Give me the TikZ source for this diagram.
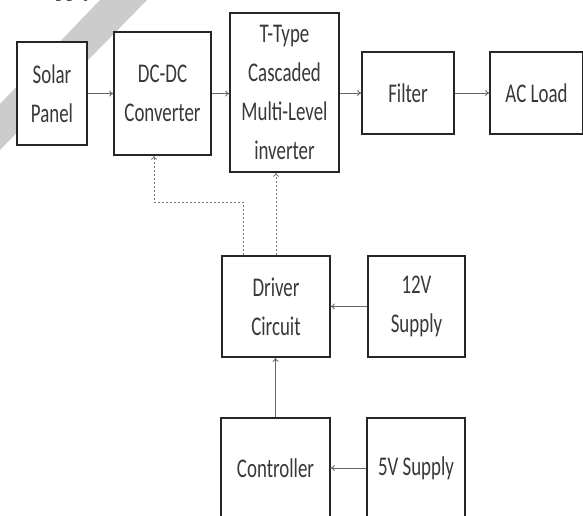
\documentclass[tikz,border=0pt]{standalone}
\usepackage{fontspec}
\setmainfont{Carlito}[FakeStretch=0.70]
\newfontfamily\hdrfont{Liberation Serif}
\usetikzlibrary{arrows.meta,calc}
\begin{document}
\begin{tikzpicture}[x=1pt,y=-1pt,
  blk/.style={draw=black!85,line width=1.5pt,fill=white,rectangle,inner sep=0pt,
    align=center,text=black!78,font=\fontsize{27}{39}\selectfont},
  arr/.style={draw=black!60,line width=0.9pt,-{To[length=4pt,width=6pt]}},
  dsh/.style={draw=black!55,line width=0.8pt,dash pattern=on 2pt off 2pt,-{To[length=4pt,width=6pt]}}]
\useasboundingbox (0,0) rectangle (583,516);
\begin{scope}
\clip (0,0) rectangle (583,516);
% watermark band
\fill[black!20] (100,0) -- (147,0) -- (0,150) -- (0,104) -- cycle;
% header text (cut)
\node[anchor=base west,inner sep=0pt,font=\hdrfont\fontsize{22}{22}\selectfont] (hdr) at (23,-3) {r supply as follow};
% blocks
\node[blk,minimum width=70pt,minimum height=103pt] (sp) at (52,93.5) {Solar\\Panel};
\node[blk,minimum width=97pt,minimum height=123pt] (dc) at (162.5,93.5) {DC-DC\\Converter};
\node[blk,minimum width=109pt,minimum height=159pt] (tt) at (284.5,92.5) {T-Type\\Cascaded\\Multi-Level\\inverter};
\node[blk,minimum width=92pt,minimum height=82pt] (fl) at (408,93) {Filter};
\node[blk,minimum width=93pt,minimum height=82pt] (ac) at (536.5,93) {AC Load};
\node[blk,minimum width=108pt,minimum height=101pt] (drv) at (276,306.5) {Driver\\Circuit};
\node[blk,minimum width=97pt,minimum height=101pt] (v12) at (416.5,306.5) {12V\\Supply};
\node[blk,minimum width=109pt,minimum height=100pt] (ctl) at (275.5,468) {Controller};
\node[blk,minimum width=98pt,minimum height=100pt] (v5) at (416,468) {5V Supply};
% connectors
\draw[arr] (sp.east) -- (sp.east -| dc.west);
\draw[arr] (dc.east) -- (dc.east -| tt.west);
\draw[arr] (tt.east |- fl.west) -- (fl.west);
\draw[arr] (fl.east) -- (ac.west);
\draw[arr] (v12.west) -- (drv.east);
\draw[arr] (v5.west) -- (ctl.east);
\draw[arr] (ctl.north) -- (drv.south -| ctl.north);
\draw[dsh] (drv.north) -- (drv.north |- tt.south);
\draw[dsh] ([xshift=-33pt]drv.north) -- ++(0,-53) -| ([xshift=-8.5pt]dc.south);
\end{scope}
\end{tikzpicture}
\end{document}
